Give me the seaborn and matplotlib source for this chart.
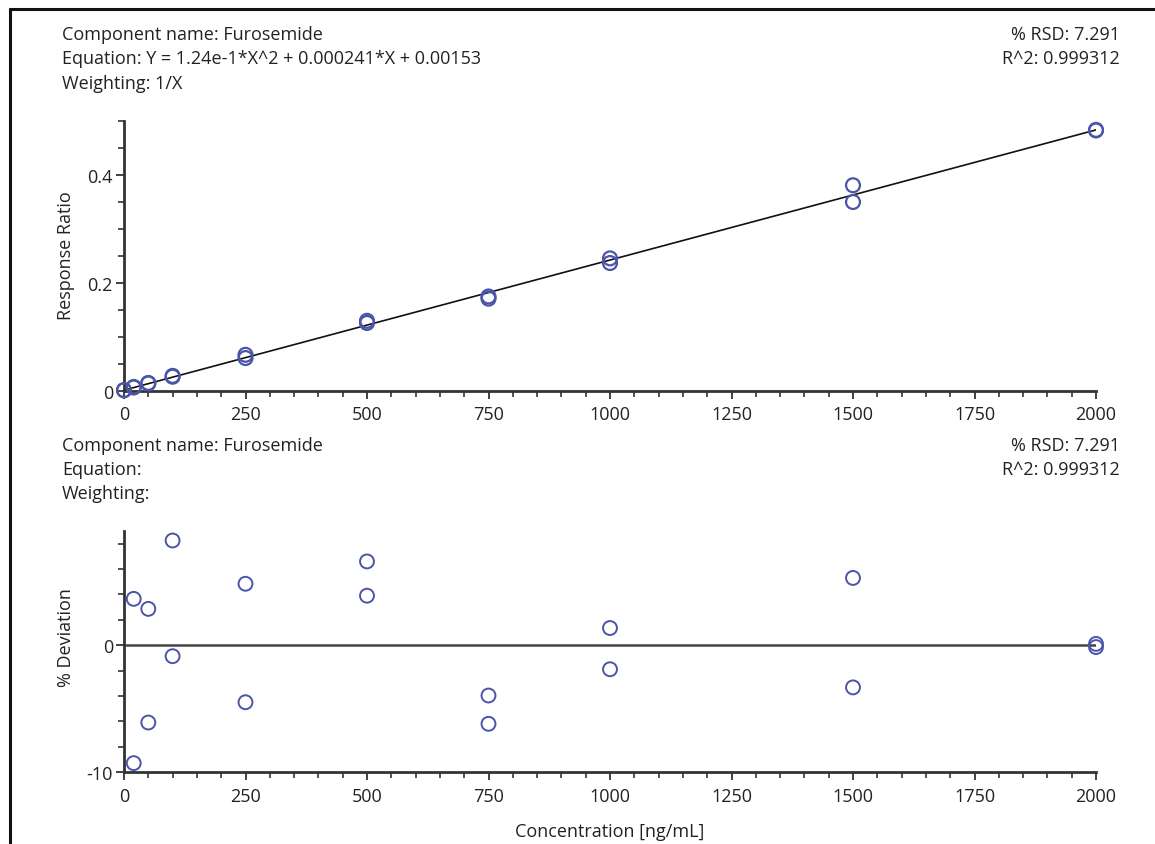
import matplotlib
matplotlib.use("Agg")
import matplotlib.pyplot as plt
import seaborn as sns
import numpy as np
from matplotlib.ticker import MultipleLocator, FixedLocator
from matplotlib.lines import Line2D

# ---------------- data ----------------
cal_conc = [0, 0, 20, 20, 50, 50, 100, 100, 250, 250, 500, 500,
            750, 750, 1000, 1000, 1500, 1500, 2000, 2000]
cal_ratio = [0.0015, 0.0015, 0.0075, 0.0065, 0.0149, 0.0140, 0.0280, 0.0265,
             0.0670, 0.0610, 0.1300, 0.1260, 0.1750, 0.1710, 0.2456, 0.2370,
             0.3810, 0.3500, 0.4835, 0.4825]

fit_conc = [0, 2000]
fit_ratio = [0.00153, 0.48353]

dev_conc = [20, 20, 50, 50, 100, 100, 250, 250, 500, 500,
            750, 750, 1000, 1000, 1500, 1500, 2000, 2000]
dev_pct = [3.65, -9.3, 2.86, -6.1, 8.25, -0.87, 4.84, -4.5, 6.6, 3.9,
           -3.97, -6.2, 1.35, -1.9, 5.3, -3.33, 0.1, -0.15]

zero_conc = [0, 2000]
zero_dev = [0, 0]

top_left_lines = ["Component name: Furosemide",
                  "Equation: Y = 1.24e-1*X^2 + 0.000241*X + 0.00153",
                  "Weighting: 1/X"]
bot_left_lines = ["Component name: Furosemide", "Equation:", "Weighting:"]
right_lines = ["% RSD: 7.291", "R^2: 0.999312"]

x_ticks = [0, 250, 500, 750, 1000, 1250, 1500, 1750, 2000]
top_yticks = [0, 0.2, 0.4]
top_yticklabels = ["0", "0.2", "0.4"]
bot_yticks = [-10, 0]
bot_yticklabels = ["-10", "0"]

# ---------------- style ----------------
sns.set_theme(style="white")
plt.rcParams['font.family'] = ['Open Sans', 'DejaVu Sans']
FS = 13

W, H = 1155, 845
fig = plt.figure(figsize=(W / 100, H / 100), dpi=100)
fig.patch.set_facecolor("white")

def fx(px):
    return px / W

def fy(py):
    return 1 - py / H

mcol = "#4a55a8"
tcol = "#222222"

ax1 = fig.add_axes([fx(124), fy(392), fx(1096) - fx(124), fy(122) - fy(392)])
ax2 = fig.add_axes([fx(124), fy(773), fx(1096) - fx(124), fy(532) - fy(773)])

# top: calibration
sns.lineplot(x=fit_conc, y=fit_ratio, ax=ax1, color="#111111", linewidth=1.2)
sns.scatterplot(x=cal_conc, y=cal_ratio, ax=ax1, marker="o", s=100,
                facecolor="none", edgecolor=mcol, linewidth=1.6,
                clip_on=False, zorder=5)
ax1.set_xlim(0, 2000)
ax1.set_ylim(0, 0.5)
ax1.yaxis.set_major_locator(FixedLocator(top_yticks))
ax1.set_yticklabels(top_yticklabels)
ax1.yaxis.set_minor_locator(MultipleLocator(0.05))
ax1.set_ylabel("Response Ratio", fontsize=FS, color=tcol)

# bottom: deviation
sns.lineplot(x=zero_conc, y=zero_dev, ax=ax2, color="#444444", linewidth=1.8)
sns.scatterplot(x=dev_conc, y=dev_pct, ax=ax2, marker="o", s=100,
                facecolor="none", edgecolor=mcol, linewidth=1.4,
                clip_on=False, zorder=5)
ax2.set_xlim(0, 2000)
ax2.set_ylim(-10, 9)
ax2.yaxis.set_major_locator(FixedLocator(bot_yticks))
ax2.set_yticklabels(bot_yticklabels)
ax2.yaxis.set_minor_locator(MultipleLocator(2))
ax2.set_ylabel("% Deviation", fontsize=FS, color=tcol)
ax2.set_xlabel("Concentration [ng/mL]", fontsize=FS, color=tcol, labelpad=12)

for ax in (ax1, ax2):
    ax.xaxis.set_major_locator(FixedLocator(x_ticks))
    ax.set_xticklabels([str(t) for t in x_ticks])
    ax.xaxis.set_minor_locator(MultipleLocator(50))
    for s in ("top", "right"):
        ax.spines[s].set_visible(False)
    for s in ("left", "bottom"):
        ax.spines[s].set_color("#333333")
        ax.spines[s].set_linewidth(2.0)
    ax.tick_params(which="major", direction="out", length=6, width=1.3,
                   color="#333333", labelsize=FS, labelcolor=tcol, pad=2,
                   left=True, bottom=True)
    ax.tick_params(which="minor", direction="out", length=4, width=1.2,
                   color="#333333", left=True, bottom=True)
    ax.set_facecolor("white")

ax2.tick_params(axis="x", which="major", pad=5)
ax1.tick_params(axis="x", which="major", pad=4)

ax1.yaxis.set_label_coords(fx(75), fy(256), transform=fig.transFigure)
ax2.yaxis.set_label_coords(fx(75), fy(638), transform=fig.transFigure)

# header texts
for i, t in enumerate(top_left_lines):
    fig.text(fx(62), fy(35 + 24.5 * i), t, ha="left", va="center",
             fontsize=FS, color=tcol)
for i, t in enumerate(right_lines):
    fig.text(fx(1120), fy(35 + 24.5 * i), t, ha="right", va="center",
             fontsize=FS, color=tcol)
for i, t in enumerate(bot_left_lines):
    fig.text(fx(62), fy(446 + 24 * i), t, ha="left", va="center",
             fontsize=FS, color=tcol)
for i, t in enumerate(right_lines):
    fig.text(fx(1120), fy(446 + 24 * i), t, ha="right", va="center",
             fontsize=FS, color=tcol)

# outer frame (left and top edges)
fig.add_artist(Line2D([fx(10), fx(10)], [fy(10), 0], transform=fig.transFigure,
                      color="#111111", linewidth=2.2))
fig.add_artist(Line2D([fx(10), 1], [fy(10), fy(10)], transform=fig.transFigure,
                      color="#111111", linewidth=2.2))

fig.savefig("out.png", dpi=100, facecolor="white")
